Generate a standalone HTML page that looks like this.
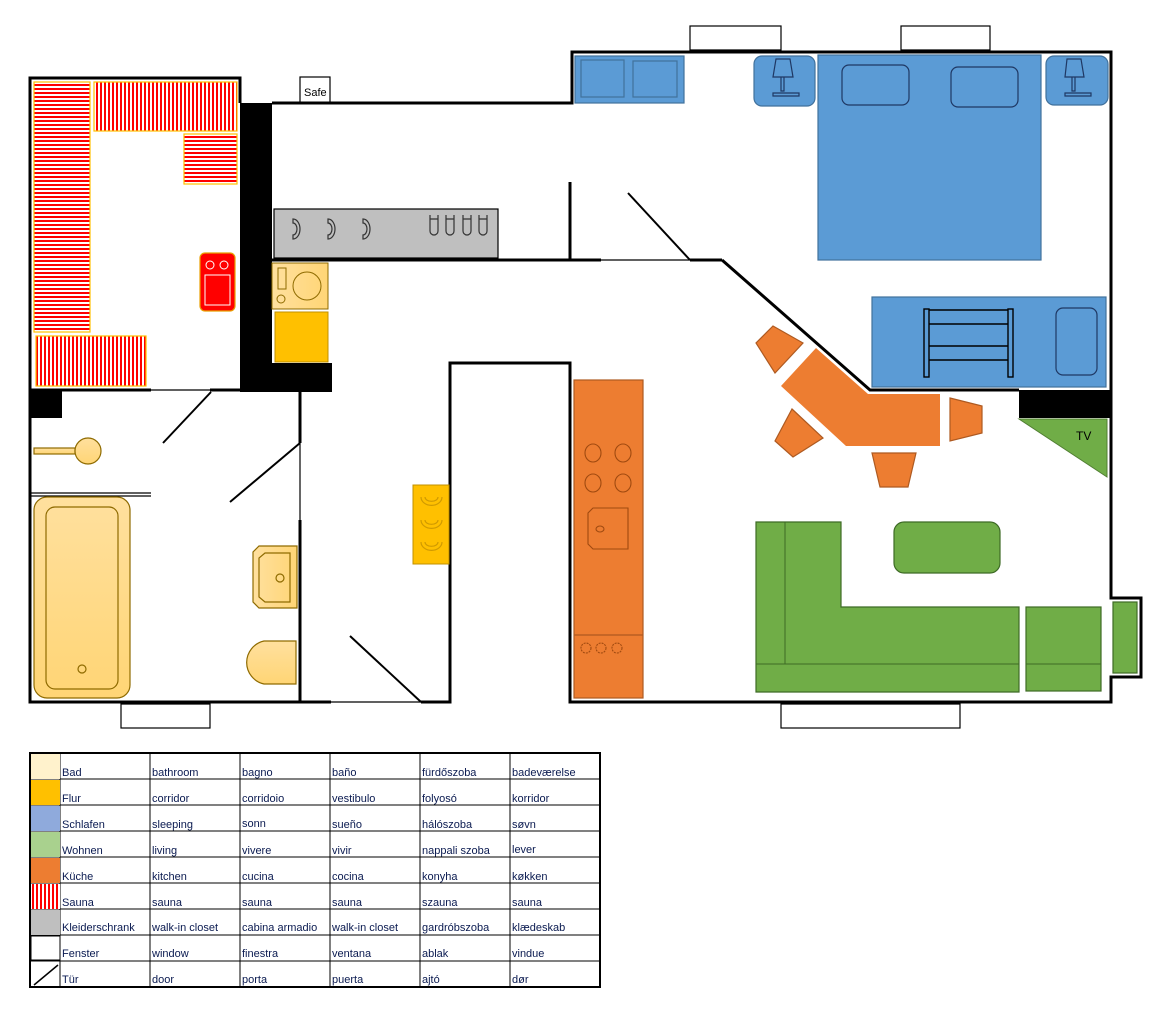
<!DOCTYPE html>
<html><head><meta charset="utf-8"><style>
html,body{margin:0;padding:0;background:#fff;}
svg{display:block;}
.lg{font-family:"Liberation Sans",sans-serif;font-size:11px;fill:#0a1a50;}
</style></head><body>
<svg width="1171" height="1015" viewBox="0 0 1171 1015" xmlns="http://www.w3.org/2000/svg">
<defs>
<pattern id="hs" width="4" height="4" patternUnits="userSpaceOnUse"><rect width="4" height="4" fill="#fff"/><rect width="4" height="2" fill="#f00"/></pattern>
<pattern id="vs" width="4" height="4" patternUnits="userSpaceOnUse"><rect width="4" height="4" fill="#fff"/><rect width="2" height="4" fill="#f00"/></pattern>
<linearGradient id="bg" x1="0" y1="0" x2="0" y2="1"><stop offset="0" stop-color="#FFE09E"/><stop offset="1" stop-color="#FFD575"/></linearGradient>
<linearGradient id="bgh" x1="0" y1="0" x2="1" y2="0"><stop offset="0" stop-color="#FFE09E"/><stop offset="1" stop-color="#FFD575"/></linearGradient>
</defs>
<rect width="1171" height="1015" fill="#fff"/>

<!-- windows -->
<g fill="#fff" stroke="#000" stroke-width="1.2">
<rect x="690" y="26" width="91" height="26"/><line x1="690" y1="50" x2="781" y2="50"/>
<rect x="901" y="26" width="89" height="26"/><line x1="901" y1="50" x2="990" y2="50"/>
<rect x="121" y="702" width="89" height="26"/><line x1="121" y1="704" x2="210" y2="704"/>
<rect x="781" y="702" width="179" height="26"/><line x1="781" y1="704" x2="960" y2="704"/>
<rect x="300" y="77" width="30" height="26"/>
</g>
<text x="304" y="96" font-family="Liberation Sans,sans-serif" font-size="11">Safe</text>

<!-- walls -->
<g stroke="#000" stroke-width="3" fill="none">
<polyline points="240,103 240,78 30,78 30,702 331,702"/>
<line x1="30" y1="390" x2="151" y2="390"/>
<line x1="210" y1="390" x2="240" y2="390"/>
<polyline points="272,103 572,103 572,52 1111,52 1111,598 1141,598 1141,677 1111,677 1111,702 570,702 570,363 450,363 450,702 421,702"/>
<line x1="272" y1="260" x2="601" y2="260"/>
<line x1="690" y1="260" x2="722" y2="260"/>
<polyline points="722,260 870,390 1019,390"/>
<line x1="570" y1="182" x2="570" y2="260"/>
<line x1="300" y1="392" x2="300" y2="443"/>
<line x1="300" y1="520" x2="300" y2="702"/>
</g>
<g stroke="#000" stroke-width="1.2" fill="none">
<line x1="151" y1="390" x2="210" y2="390"/>
<line x1="601" y1="260" x2="690" y2="260"/>
<line x1="300" y1="443" x2="300" y2="520"/>
<line x1="331" y1="702" x2="421" y2="702"/>
<line x1="30" y1="493" x2="151" y2="493"/><line x1="30" y1="496" x2="151" y2="496"/>
</g>
<!-- doors -->
<g stroke="#000" stroke-width="2" fill="none">
<line x1="628" y1="193" x2="690" y2="260"/>
<line x1="211" y1="392" x2="163" y2="443"/>
<line x1="300" y1="443" x2="230" y2="502"/>
<line x1="350" y1="636" x2="421" y2="702"/>
</g>
<!-- black blocks -->
<g fill="#000">
<rect x="240" y="103" width="32" height="289"/>
<rect x="272" y="363" width="60" height="29"/>
<rect x="30" y="390" width="32" height="28"/>
<rect x="1019" y="390" width="92" height="28"/>
</g>

<!-- sauna -->
<g stroke="#FFC000" stroke-width="1.2">
<rect x="34" y="82" width="56" height="250" fill="url(#hs)"/>
<rect x="94" y="82" width="143" height="49" fill="url(#vs)"/>
<rect x="184" y="134" width="53" height="50" fill="url(#hs)"/>
<rect x="36" y="336" width="110" height="50" fill="url(#vs)"/>
<rect x="200" y="253" width="35" height="58" rx="5" fill="#f00" stroke="#E8A000"/>
</g>
<g stroke="#fff" fill="none" stroke-width="1"><circle cx="210" cy="265" r="4"/><circle cx="224" cy="265" r="4"/><rect x="205" y="275" width="25" height="30"/></g>

<!-- closet -->
<rect x="274" y="209" width="224" height="49" fill="#BFBFBF" stroke="#000" stroke-width="1.2"/>
<g fill="none" stroke="#333" stroke-width="1.2">
<path d="M293,219 a7,10 0 0 1 0,20 l0,-4 a4,6 0 0 0 0,-12 z"/>
<path d="M328,219 a7,10 0 0 1 0,20 l0,-4 a4,6 0 0 0 0,-12 z"/>
<path d="M363,219 a7,10 0 0 1 0,20 l0,-4 a4,6 0 0 0 0,-12 z"/>
<path d="M430,215 v16 a4,4 0 0 0 8,0 v-16 M430,219 h8"/>
<path d="M446,215 v16 a4,4 0 0 0 8,0 v-16 M446,219 h8"/>
<path d="M463,215 v16 a4,4 0 0 0 8,0 v-16 M463,219 h8"/>
<path d="M479,215 v16 a4,4 0 0 0 8,0 v-16 M479,219 h8"/>
</g>
<rect x="272" y="263" width="56" height="46" fill="url(#bgh)" stroke="#8F6B00"/>
<g fill="none" stroke="#8F6B00"><rect x="278" y="268" width="8" height="21"/><circle cx="307" cy="286" r="14"/><circle cx="281" cy="299" r="4"/></g>
<rect x="275" y="312" width="53" height="50" fill="#FFC000" stroke="#C09000"/>

<!-- bathroom -->
<g stroke="#8F6B00" stroke-width="1.2">
<rect x="34" y="448" width="41" height="6" fill="url(#bg)"/>
<circle cx="88" cy="451" r="13" fill="url(#bg)"/>
<rect x="34" y="497" width="96" height="201" rx="13" fill="url(#bg)"/>
<rect x="46" y="507" width="72" height="182" rx="9" fill="none"/>
<circle cx="82" cy="669" r="4" fill="none"/>
<path d="M259,546 H297 V608 H259 L253,602 V552 Z" fill="url(#bgh)"/>
<path d="M265,553 H290 V602 H265 L259,597 V558 Z" fill="none"/>
<circle cx="280" cy="578" r="4" fill="none"/>
<path d="M296,641 V684 H264 A22,22 0 0 1 264,641 Z" fill="url(#bg)"/>
</g>
<rect x="413" y="485" width="36" height="79" fill="#FFC000" stroke="#C09000"/>
<g fill="none" stroke="#D09A00" stroke-width="1.2">
<path d="M421,497 a10,8 0 0 0 21,0 M425,497 a6,4 0 0 0 13,0"/>
<path d="M421,520 a10,8 0 0 0 21,0 M425,520 a6,4 0 0 0 13,0"/>
<path d="M421,542 a10,8 0 0 0 21,0 M425,542 a6,4 0 0 0 13,0"/>
</g>

<!-- bedroom -->
<g fill="#5B9BD5" stroke="#41719C" stroke-width="1.2">
<rect x="575" y="56" width="109" height="47"/>
<rect x="581" y="60" width="43" height="37"/><rect x="633" y="61" width="44" height="36"/>
<rect x="754" y="56" width="61" height="50" rx="8"/>
<rect x="1046" y="56" width="62" height="49" rx="8"/>
<rect x="818" y="55" width="223" height="205"/>
<rect x="872" y="297" width="234" height="90"/>
</g>
<g fill="none" stroke="#1F3864" stroke-width="1.2">
<rect x="842" y="65" width="67" height="40" rx="7"/>
<rect x="951" y="67" width="67" height="40" rx="7"/>
<path d="M776,59 H790 L793,77 H773 Z M781,77 V91 H784 V77 M773,93 H799 V96 H773 Z"/>
<path d="M1067,59 H1081 L1084,77 H1065 Z M1072,77 V91 H1075 V77 M1065,93 H1091 V96 H1065 Z"/>
<rect x="1056" y="308" width="41" height="67" rx="7"/>
</g>
<g fill="none" stroke="#000" stroke-width="1.4">
<rect x="924" y="309" width="5" height="68"/><rect x="1008" y="309" width="5" height="68"/>
<line x1="929" y1="310" x2="1008" y2="310"/><line x1="929" y1="324" x2="1008" y2="324"/>
<line x1="929" y1="346" x2="1008" y2="346"/><line x1="929" y1="360" x2="1008" y2="360"/>
</g>

<!-- kitchen -->
<g fill="#ED7D31" stroke="#AE5A21" stroke-width="1.2">
<rect x="574" y="380" width="69" height="318"/>
<line x1="574" y1="635" x2="643" y2="635"/>
<polygon points="781,386 816,348 868,394 940,394 940,446 846,446" stroke="none"/>
<polygon points="773,326 803,343 775,373 756,343"/>
<polygon points="792,409 823,438 793,457 775,441"/>
<polygon points="950,398 982,406 982,433 950,441"/>
<polygon points="872,453 916,453 908,487 880,487"/>
</g>
<g fill="none" stroke="#A04A10" stroke-width="1.1">
<ellipse cx="593" cy="453" rx="8" ry="9"/><ellipse cx="623" cy="453" rx="8" ry="9"/>
<ellipse cx="593" cy="483" rx="8" ry="9"/><ellipse cx="623" cy="483" rx="8" ry="9"/>
<path d="M593,508 H628 V549 H593 L588,544 V513 Z"/>
<ellipse cx="600" cy="529" rx="4" ry="3"/>
<circle cx="586" cy="648" r="5" stroke-dasharray="2,1"/><circle cx="601" cy="648" r="5" stroke-dasharray="2,1"/><circle cx="617" cy="648" r="5" stroke-dasharray="2,1"/>
</g>

<!-- living -->
<polygon points="1019,419 1107,419 1107,477" fill="#70AD47" stroke="#507E32"/>
<text x="1076" y="440" font-family="Liberation Sans,sans-serif" font-size="12">TV</text>
<g fill="#70AD47" stroke="#3E6B26" stroke-width="1.2">
<polygon points="756,522 841,522 841,607 1019,607 1019,692 756,692"/>
<rect x="1026" y="607" width="75" height="84"/>
<rect x="1113" y="602" width="24" height="71"/>
<rect x="894" y="522" width="106" height="51" rx="10"/>
</g>
<g stroke="#3E6B26" stroke-width="1" fill="none">
<polyline points="785,522 785,664"/><line x1="756" y1="664" x2="1019" y2="664"/><line x1="1026" y1="664" x2="1101" y2="664"/>
</g>

<!-- legend -->
<g stroke="#000" fill="none">
<rect x="30" y="753" width="570" height="234" stroke-width="2"/>
<g stroke-width="1">
<line x1="30" y1="779" x2="600" y2="779"/><line x1="30" y1="805" x2="600" y2="805"/>
<line x1="30" y1="831" x2="600" y2="831"/><line x1="30" y1="857" x2="600" y2="857"/>
<line x1="30" y1="883" x2="600" y2="883"/><line x1="30" y1="909" x2="600" y2="909"/>
<line x1="30" y1="935" x2="600" y2="935"/><line x1="30" y1="961" x2="600" y2="961"/>
<line x1="60" y1="753" x2="60" y2="987"/><line x1="150" y1="753" x2="150" y2="987"/>
<line x1="240" y1="753" x2="240" y2="987"/><line x1="330" y1="753" x2="330" y2="987"/>
<line x1="420" y1="753" x2="420" y2="987"/><line x1="510" y1="753" x2="510" y2="987"/>
</g>
</g>
<rect x="31" y="754" width="29" height="25" fill="#FFF2CC"/>
<rect x="31" y="780" width="29" height="25" fill="#FFC000"/>
<rect x="31" y="806" width="29" height="25" fill="#8FAADC"/>
<rect x="31" y="832" width="29" height="25" fill="#A9D18E"/>
<rect x="31" y="858" width="29" height="25" fill="#ED7D31"/>
<rect x="31" y="884" width="29" height="25" fill="url(#vs)"/>
<rect x="31" y="910" width="29" height="25" fill="#BFBFBF"/>
<rect x="31" y="936" width="29" height="24" fill="#fff" stroke="#000" stroke-width="1"/>
<line x1="34" y1="985" x2="58" y2="965" stroke="#000" stroke-width="1.5"/>
<g class="lg">
<text x="62" y="776">Bad</text><text x="152" y="776">bathroom</text><text x="242" y="776">bagno</text><text x="332" y="776">baño</text><text x="422" y="776">fürdőszoba</text><text x="512" y="776">badeværelse</text>
<text x="62" y="802">Flur</text><text x="152" y="802">corridor</text><text x="242" y="802">corridoio</text><text x="332" y="802">vestibulo</text><text x="422" y="802">folyosó</text><text x="512" y="802">korridor</text>
<text x="62" y="828">Schlafen</text><text x="152" y="828">sleeping</text><text x="242" y="827">sonn</text><text x="332" y="828">sueño</text><text x="422" y="828">hálószoba</text><text x="512" y="828">søvn</text>
<text x="62" y="854">Wohnen</text><text x="152" y="854">living</text><text x="242" y="854">vivere</text><text x="332" y="854">vivir</text><text x="422" y="854">nappali szoba</text><text x="512" y="853">lever</text>
<text x="62" y="880">Küche</text><text x="152" y="880">kitchen</text><text x="242" y="880">cucina</text><text x="332" y="880">cocina</text><text x="422" y="880">konyha</text><text x="512" y="880">køkken</text>
<text x="62" y="906">Sauna</text><text x="152" y="906">sauna</text><text x="242" y="906">sauna</text><text x="332" y="906">sauna</text><text x="422" y="906">szauna</text><text x="512" y="906">sauna</text>
<text x="62" y="931">Kleiderschrank</text><text x="152" y="931">walk-in closet</text><text x="242" y="931">cabina armadio</text><text x="332" y="931">walk-in closet</text><text x="422" y="931">gardróbszoba</text><text x="512" y="931">klædeskab</text>
<text x="62" y="957">Fenster</text><text x="152" y="957">window</text><text x="242" y="957">finestra</text><text x="332" y="957">ventana</text><text x="422" y="957">ablak</text><text x="512" y="957">vindue</text>
<text x="62" y="983">Tür</text><text x="152" y="983">door</text><text x="242" y="983">porta</text><text x="332" y="983">puerta</text><text x="422" y="983">ajtó</text><text x="512" y="983">dør</text>
</g>
</svg>
</body></html>
